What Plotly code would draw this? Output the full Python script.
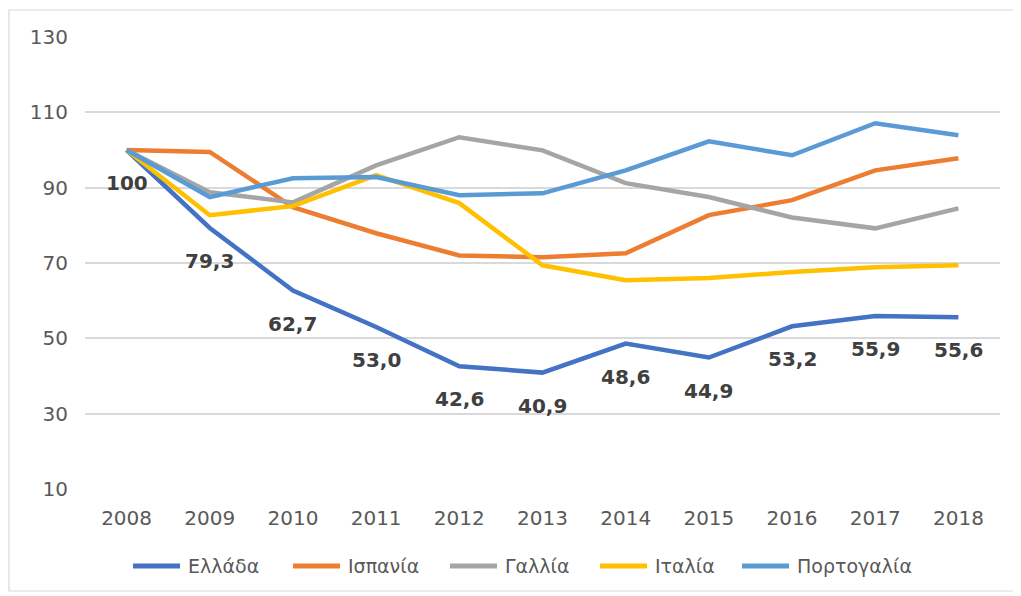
import plotly.graph_objects as go

years = [2008, 2009, 2010, 2011, 2012, 2013, 2014, 2015, 2016, 2017, 2018]
greece = [100, 79.3, 62.7, 53.0, 42.6, 40.9, 48.6, 44.9, 53.2, 55.9, 55.6]
spain = [100, 99.5, 84.8, 77.9, 72.0, 71.5, 72.6, 82.7, 86.7, 94.6, 97.8]
france = [100, 88.8, 86.1, 95.9, 103.4, 99.9, 91.2, 87.5, 82.1, 79.2, 84.5]
italy = [100, 82.7, 85.1, 93.3, 85.9, 69.4, 65.4, 66.0, 67.6, 68.9, 69.4]
portugal = [100, 87.5, 92.5, 92.8, 88.0, 88.5, 94.6, 102.3, 98.6, 107.1, 103.9]
greece_labels = ["100", "79,3", "62,7", "53,0", "42,6", "40,9", "48,6", "44,9", "53,2", "55,9", "55,6"]
y_ticks = [10, 30, 50, 70, 90, 110, 130]

series = [
    ("Ελλάδα", greece, "#4472C4"),
    ("Ισπανία", spain, "#ED7D31"),
    ("Γαλλία", france, "#A5A5A5"),
    ("Ιταλία", italy, "#FFC000"),
    ("Πορτογαλία", portugal, "#5B9BD5"),
]
# legend entry start positions (page pixels), layout only
legend_x = [131, 291, 448, 598, 740]
LEGEND_Y = 566
LEGEND_LINE = 51

fig = go.Figure()
for name, vals, color in series:
    fig.add_trace(go.Scatter(x=years, y=vals, name=name, mode="lines",
                             line=dict(color=color, width=4.5), showlegend=False))

for x, y, t in zip(years, greece, greece_labels):
    fig.add_annotation(x=x, y=y, xref="x", yref="y", text="<b>" + t + "</b>",
                       showarrow=False, yshift=-33,
                       font=dict(family="DejaVu Sans", size=20, color="#404040"))

# page has an 8px body margin; figure offset compensated
OFF = 8
W, H = 1021 - OFF, 596 - OFF
L, R, T, B = 85 - OFF, 21, 37 - OFF, 107
pw, ph = 915, 452

def px(x):  # page pixel -> paper
    return (x - 85) / pw

def py(y):
    return 1 - (y - 37) / ph

fig.add_shape(type="rect", xref="paper", yref="paper",
              x0=px(9), x1=px(1014), y0=py(591), y1=py(10),
              line=dict(color="#D9D9D9", width=1.2), fillcolor="rgba(0,0,0,0)", layer="below")

# manual legend
for (name, vals, color), lx in zip(series, legend_x):
    fig.add_shape(type="line", xref="paper", yref="paper",
                  x0=px(lx + 2), x1=px(lx + LEGEND_LINE - 2), y0=py(LEGEND_Y), y1=py(LEGEND_Y),
                  line=dict(color=color, width=5))
    fig.add_annotation(xref="paper", yref="paper", x=px(lx + LEGEND_LINE + 4), y=py(LEGEND_Y),
                       xanchor="left", yanchor="middle", text=name, showarrow=False,
                       font=dict(family="DejaVu Sans", size=19, color="#595959"))

fig.update_layout(
    width=W, height=H,
    margin=dict(l=L, r=R, t=T, b=B),
    paper_bgcolor="white", plot_bgcolor="white",
    font=dict(family="DejaVu Sans", color="#595959", size=20),
    xaxis=dict(range=[2007.5, 2018.5], tickvals=years, showgrid=False, zeroline=False,
               showline=False, ticks="", ticklabelstandoff=15,
               tickfont=dict(size=20, color="#595959")),
    yaxis=dict(range=[10, 130], tickvals=y_ticks, showgrid=True,
               gridcolor="#D9D9D9", gridwidth=1.5, zeroline=False, showline=False,
               ticks="", ticklabelstandoff=16, tickfont=dict(size=20, color="#595959")),
    showlegend=False,
)

fig.write_html("out.html")
